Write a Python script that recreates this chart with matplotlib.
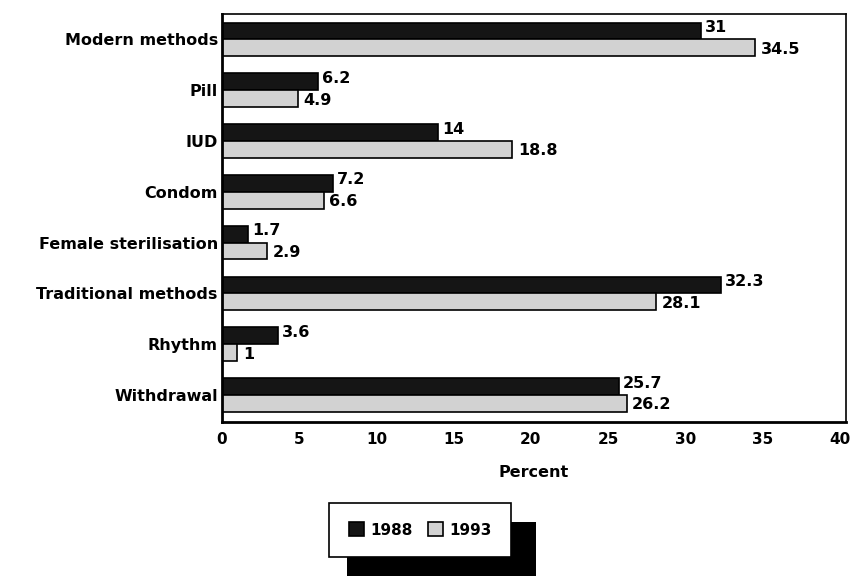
import matplotlib.pyplot as plt
from matplotlib.patches import Rectangle
import numpy as np

categories = ['Modern methods', 'Pill', 'IUD', 'Condom', 'Female sterilisation',
              'Traditional methods', 'Rhythm', 'Withdrawal']
values_1988 = [31, 6.2, 14, 7.2, 1.7, 32.3, 3.6, 25.7]
values_1993 = [34.5, 4.9, 18.8, 6.6, 2.9, 28.1, 1, 26.2]
labels_1988 = ['31', '6.2', '14', '7.2', '1.7', '32.3', '3.6', '25.7']
labels_1993 = ['34.5', '4.9', '18.8', '6.6', '2.9', '28.1', '1', '26.2']

plt.rcParams['font.family'] = ['DejaVu Sans']
plt.rcParams['font.weight'] = 'bold'

W, H = 859, 576
fig = plt.figure(figsize=(W / 100, H / 100), dpi=100)
ax = fig.add_axes([222 / W, 1 - 422 / H, (846 - 222) / W, (422 - 14) / H])

y = np.arange(len(categories))
h = 0.33
ax.barh(y - h / 2, values_1988, height=h, color='#151515', edgecolor='black', linewidth=1.2, label='1988')
ax.barh(y + h / 2, values_1993, height=h, color='#d2d2d2', edgecolor='black', linewidth=1.2, label='1993')

for i in range(len(categories)):
    ax.annotate(labels_1988[i], (values_1988[i], y[i] - h / 2 - 0.07), xytext=(3, 0),
                textcoords='offset points', va='center', ha='left', fontsize=11.5, fontweight='bold')
    ax.annotate(labels_1993[i], (values_1993[i], y[i] + h / 2 + 0.03), xytext=(4, 0),
                textcoords='offset points', va='center', ha='left', fontsize=11.5, fontweight='bold')

ax.set_xlim(0, 40.4)
ax.set_ylim(len(categories) - 0.47, -0.5)
ax.set_xticks(range(0, 41, 5))
ax.set_yticks(y)
ax.set_yticklabels(categories, fontsize=11.5, fontweight='bold')
ax.tick_params(axis='x', length=0, pad=7, labelsize=11)
ax.tick_params(axis='y', length=0, pad=3)
for lab in ax.get_xticklabels():
    lab.set_fontweight('bold')
ax.set_xlabel('Percent', fontsize=11.5, fontweight='bold', labelpad=13)

ax.spines['left'].set_linewidth(2)
ax.spines['bottom'].set_linewidth(2)
ax.spines['top'].set_linewidth(1.2)
ax.spines['right'].set_linewidth(1.2)

# legend with a solid black drop shadow
shadow = Rectangle((347 / W, 0), (536 - 347) / W, (576 - 522) / H,
                   transform=fig.transFigure, facecolor='black', edgecolor='none', zorder=1)
fig.patches.append(shadow)
leg = fig.legend(loc='center', bbox_to_anchor=(420 / W, 1 - 530 / H), ncol=2,
                 frameon=True, fancybox=False, edgecolor='black', facecolor='white',
                 framealpha=1, fontsize=11, handlelength=1.0, handleheight=1.0,
                 handletextpad=0.4, columnspacing=1.0, borderpad=1.3, borderaxespad=0)
leg.get_frame().set_linewidth(1.2)
leg.set_zorder(5)
for t in leg.get_texts():
    t.set_fontweight('bold')

fig.savefig('out.png', dpi=100)
